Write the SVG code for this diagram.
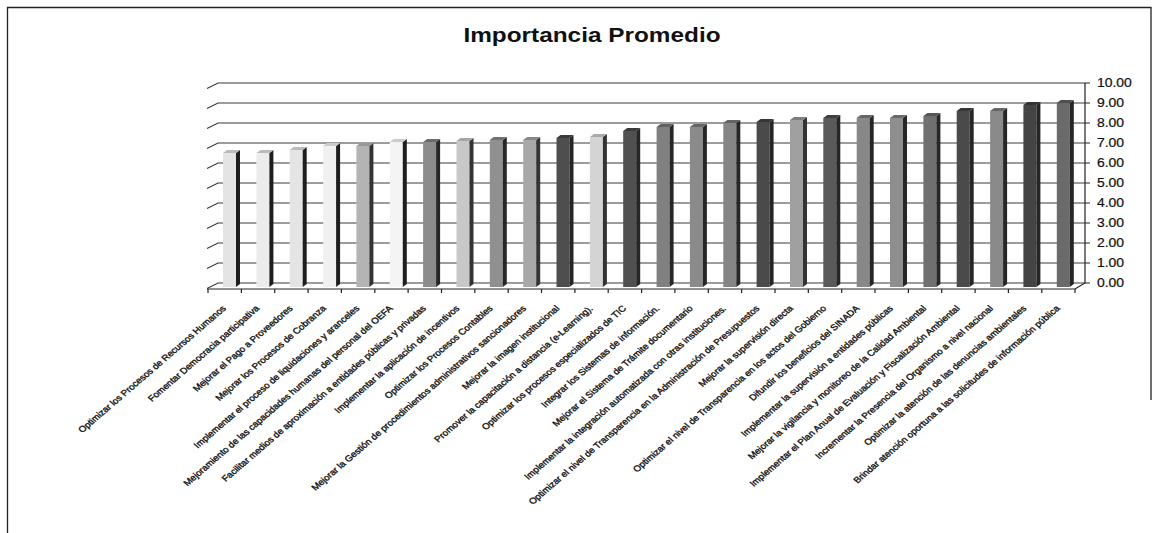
<svg xmlns="http://www.w3.org/2000/svg" width="1158" height="533" viewBox="0 0 1158 533">
<style>
.frame{fill:none;stroke:#222;stroke-width:1.3}
.grid{stroke:#3a3a3a;stroke-width:1.1;fill:none}
.ax{stroke:#222;stroke-width:1.2;fill:none}
.lbl{font-family:"Liberation Sans",Arial,sans-serif;font-size:8.5px;fill:#111;stroke:#111;stroke-width:0.35}
.val{font-family:"Liberation Sans",Arial,sans-serif;font-size:12px;fill:#111;stroke:#111;stroke-width:0.2}
.title{font-family:"Liberation Sans",Arial,sans-serif;font-size:21px;font-weight:bold;fill:#111}
.s1{fill:#1e1e1e}.s2{fill:#333}.s3{fill:#262626}
</style>
<rect width="1158" height="533" fill="#fff"/>
<path class="frame" d="M7.5,533 V7.5 H1151 V400"/>
<text class="title" transform="translate(592,42) scale(1.16,1)" text-anchor="middle">Importancia Promedio</text>

<g id="axes">
  <g class="grid">
    <path d="M207,88.5 L218,83 H1085"/>
    <path d="M207,108.5 L218,103 H1085"/>
    <path d="M207,128.5 L218,123 H1085"/>
    <path d="M207,148.5 L218,143 H1085"/>
    <path d="M207,168.5 L218,163 H1085"/>
    <path d="M207,188.5 L218,183 H1085"/>
    <path d="M207,208.5 L218,203 H1085"/>
    <path d="M207,228.5 L218,223 H1085"/>
    <path d="M207,248.5 L218,243 H1085"/>
    <path d="M207,268.5 L218,263 H1085"/>
    <path d="M207,288.5 L218,283 H1085"/>
  </g>
  <path class="ax" d="M1085,83 V283 L1075,289 H207"/>
  <path class="ax" d="M1085,83 h5 M1085,103 h5 M1085,123 h5 M1085,143 h5 M1085,163 h5 M1085,183 h5 M1085,203 h5 M1085,223 h5 M1085,243 h5 M1085,263 h5 M1085,283 h5"/>
  <path class="ax" d="M208,289 v4 M241.4,289 v4 M274.7,289 v4 M308.1,289 v4 M341.4,289 v4 M374.8,289 v4 M408.1,289 v4 M441.5,289 v4 M474.8,289 v4 M508.2,289 v4 M541.5,289 v4 M574.9,289 v4 M608.2,289 v4 M641.6,289 v4 M674.9,289 v4 M708.3,289 v4 M741.6,289 v4 M775,289 v4 M808.3,289 v4 M841.7,289 v4 M875,289 v4 M908.4,289 v4 M941.7,289 v4 M975.1,289 v4 M1008.4,289 v4 M1041.8,289 v4 M1075,289 v4"/>
  <g class="val">
    <text transform="translate(1097,87) scale(1.16,1)">10.00</text>
    <text transform="translate(1097,107) scale(1.16,1)">9.00</text>
    <text transform="translate(1097,127) scale(1.16,1)">8.00</text>
    <text transform="translate(1097,147) scale(1.16,1)">7.00</text>
    <text transform="translate(1097,167) scale(1.16,1)">6.00</text>
    <text transform="translate(1097,187) scale(1.16,1)">5.00</text>
    <text transform="translate(1097,207) scale(1.16,1)">4.00</text>
    <text transform="translate(1097,227) scale(1.16,1)">3.00</text>
    <text transform="translate(1097,247) scale(1.16,1)">2.00</text>
    <text transform="translate(1097,267) scale(1.16,1)">1.00</text>
    <text transform="translate(1097,287) scale(1.16,1)">0.00</text>
  </g>
</g>

<g id="bars">
<g id="bar-01"><rect x="223" y="153" width="13" height="134" fill="#e4e4e4"/><polygon class="s1" points="236,153 240,150 240,284 236,287"/><polygon points="223,153 236,153 240,150 227,150" fill="#bbb"/><text class="lbl" transform="translate(226.5,309) scale(1.16,1) rotate(-45)" text-anchor="end">Optimizar los Procesos de Recursos Humanos</text></g>
<g id="bar-02"><rect x="256.4" y="153" width="13" height="134" fill="#ececec"/><polygon class="s1" points="269.4,153 273.4,150 273.4,284 269.4,287"/><polygon points="256.4,153 269.4,153 273.4,150 260.4,150" fill="#bbb"/><text class="lbl" transform="translate(259.9,309) scale(1.16,1) rotate(-45)" text-anchor="end">Fomentar Democracia participativa</text></g>
<g id="bar-03"><rect x="289.7" y="150" width="13" height="137" fill="#e4e4e4"/><polygon class="s1" points="302.7,150 306.7,147 306.7,284 302.7,287"/><polygon points="289.7,150 302.7,150 306.7,147 293.7,147" fill="#bbb"/><text class="lbl" transform="translate(293.2,309) scale(1.16,1) rotate(-45)" text-anchor="end">Mejorar el Pago a Proveedores</text></g>
<g id="bar-04"><rect x="323.1" y="146" width="13" height="141" fill="#f0f0f0"/><polygon class="s1" points="336.1,146 340.1,143 340.1,284 336.1,287"/><polygon points="323.1,146 336.1,146 340.1,143 327.1,143" fill="#ccc"/><text class="lbl" transform="translate(326.6,309) scale(1.16,1) rotate(-45)" text-anchor="end">Mejorar los Procesos de Cobranza</text></g>
<g id="bar-05"><rect x="356.4" y="146" width="13" height="141" fill="#b4b4b4"/><polygon class="s2" points="369.4,146 373.4,143 373.4,284 369.4,287"/><polygon points="356.4,146 369.4,146 373.4,143 360.4,143" fill="#999"/><text class="lbl" transform="translate(359.9,309) scale(1.16,1) rotate(-45)" text-anchor="end">Implementar el proceso de liquidaciones y aranceles</text></g>
<g id="bar-06"><rect x="389.8" y="142" width="13" height="145" fill="#f4f4f4"/><polygon class="s1" points="402.8,142 406.8,139 406.8,284 402.8,287"/><polygon points="389.8,142 402.8,142 406.8,139 393.8,139" fill="#ccc"/><text class="lbl" transform="translate(393.3,309) scale(1.16,1) rotate(-45)" text-anchor="end">Mejoramiento de las capacidades humanas del personal del OEFA</text></g>
<g id="bar-07"><rect x="423.1" y="142" width="13" height="145" fill="#8c8c8c"/><polygon class="s3" points="436.1,142 440.1,139 440.1,284 436.1,287"/><polygon points="423.1,142 436.1,142 440.1,139 427.1,139" fill="#6a6a6a"/><text class="lbl" transform="translate(426.6,309) scale(1.16,1) rotate(-45)" text-anchor="end">Facilitar medios de aproximación a entidades públicas y privadas</text></g>
<g id="bar-08"><rect x="456.5" y="141" width="13" height="146" fill="#c8c8c8"/><polygon class="s2" points="469.5,141 473.5,138 473.5,284 469.5,287"/><polygon points="456.5,141 469.5,141 473.5,138 460.5,138" fill="#a5a5a5"/><text class="lbl" transform="translate(460,309) scale(1.16,1) rotate(-45)" text-anchor="end">Implementar la aplicación de incentivos</text></g>
<g id="bar-09"><rect x="489.8" y="140" width="13" height="147" fill="#909090"/><polygon class="s3" points="502.8,140 506.8,137 506.8,284 502.8,287"/><polygon points="489.8,140 502.8,140 506.8,137 493.8,137" fill="#707070"/><text class="lbl" transform="translate(493.3,309) scale(1.16,1) rotate(-45)" text-anchor="end">Optimizar los Procesos Contables</text></g>
<g id="bar-10"><rect x="523.2" y="140" width="13" height="147" fill="#a8a8a8"/><polygon class="s2" points="536.2,140 540.2,137 540.2,284 536.2,287"/><polygon points="523.2,140 536.2,140 540.2,137 527.2,137" fill="#888"/><text class="lbl" transform="translate(526.7,309) scale(1.16,1) rotate(-45)" text-anchor="end">Mejorar la Gestión de procedimientos administrativos sancionadores</text></g>
<g id="bar-11"><rect x="556.5" y="138" width="13" height="149" fill="#4e4e4e"/><polygon class="s3" points="569.5,138 573.5,135 573.5,284 569.5,287"/><polygon points="556.5,138 569.5,138 573.5,135 560.5,135" fill="#3a3a3a"/><text class="lbl" transform="translate(560,309) scale(1.16,1) rotate(-45)" text-anchor="end">Mejorar la imagen institucional</text></g>
<g id="bar-12"><rect x="589.9" y="137" width="13" height="150" fill="#d4d4d4"/><polygon class="s2" points="602.9,137 606.9,134 606.9,284 602.9,287"/><polygon points="589.9,137 602.9,137 606.9,134 593.9,134" fill="#aaa"/><text class="lbl" transform="translate(593.4,309) scale(1.16,1) rotate(-45)" text-anchor="end">Promover la capacitación a distancia (e-Learning).</text></g>
<g id="bar-13"><rect x="623.2" y="131" width="13" height="156" fill="#505050"/><polygon class="s3" points="636.2,131 640.2,128 640.2,284 636.2,287"/><polygon points="623.2,131 636.2,131 640.2,128 627.2,128" fill="#3a3a3a"/><text class="lbl" transform="translate(626.7,309) scale(1.16,1) rotate(-45)" text-anchor="end">Optimizar los procesos especializados de TIC</text></g>
<g id="bar-14"><rect x="656.6" y="127" width="13" height="160" fill="#808080"/><polygon class="s3" points="669.6,127 673.6,124 673.6,284 669.6,287"/><polygon points="656.6,127 669.6,127 673.6,124 660.6,124" fill="#606060"/><text class="lbl" transform="translate(660.1,309) scale(1.16,1) rotate(-45)" text-anchor="end">Integrar los Sistemas de información.</text></g>
<g id="bar-15"><rect x="689.9" y="127" width="13" height="160" fill="#8a8a8a"/><polygon class="s3" points="702.9,127 706.9,124 706.9,284 702.9,287"/><polygon points="689.9,127 702.9,127 706.9,124 693.9,124" fill="#666"/><text class="lbl" transform="translate(693.4,309) scale(1.16,1) rotate(-45)" text-anchor="end">Mejorar el Sistema de Trámite documentario</text></g>
<g id="bar-16"><rect x="723.3" y="123" width="13" height="164" fill="#858585"/><polygon class="s3" points="736.3,123 740.3,120 740.3,284 736.3,287"/><polygon points="723.3,123 736.3,123 740.3,120 727.3,120" fill="#636363"/><text class="lbl" transform="translate(726.8,309) scale(1.16,1) rotate(-45)" text-anchor="end">Implementar la integración automatizada con otras instituciones.</text></g>
<g id="bar-17"><rect x="756.6" y="122" width="13" height="165" fill="#4a4a4a"/><polygon class="s3" points="769.6,122 773.6,119 773.6,284 769.6,287"/><polygon points="756.6,122 769.6,122 773.6,119 760.6,119" fill="#363636"/><text class="lbl" transform="translate(760.1,309) scale(1.16,1) rotate(-45)" text-anchor="end">Optimizar el nivel de Transparencia en la Administración de Presupuestos</text></g>
<g id="bar-18"><rect x="790" y="120" width="13" height="167" fill="#a0a0a0"/><polygon class="s2" points="803,120 807,117 807,284 803,287"/><polygon points="790,120 803,120 807,117 794,117" fill="#7e7e7e"/><text class="lbl" transform="translate(793.5,309) scale(1.16,1) rotate(-45)" text-anchor="end">Mejorar la supervisión directa</text></g>
<g id="bar-19"><rect x="823.3" y="118" width="13" height="169" fill="#5a5a5a"/><polygon class="s3" points="836.3,118 840.3,115 840.3,284 836.3,287"/><polygon points="823.3,118 836.3,118 840.3,115 827.3,115" fill="#404040"/><text class="lbl" transform="translate(826.8,309) scale(1.16,1) rotate(-45)" text-anchor="end">Optimizar el nivel de Transparencia en los actos del Gobierno</text></g>
<g id="bar-20"><rect x="856.7" y="118" width="13" height="169" fill="#888"/><polygon class="s3" points="869.7,118 873.7,115 873.7,284 869.7,287"/><polygon points="856.7,118 869.7,118 873.7,115 860.7,115" fill="#666"/><text class="lbl" transform="translate(860.2,309) scale(1.16,1) rotate(-45)" text-anchor="end">Difundir los beneficios del SINADA</text></g>
<g id="bar-21"><rect x="890" y="118" width="13" height="169" fill="#8e8e8e"/><polygon class="s3" points="903,118 907,115 907,284 903,287"/><polygon points="890,118 903,118 907,115 894,115" fill="#6a6a6a"/><text class="lbl" transform="translate(893.5,309) scale(1.16,1) rotate(-45)" text-anchor="end">Implementar la supervisión a entidades públicas</text></g>
<g id="bar-22"><rect x="923.4" y="116" width="13" height="171" fill="#707070"/><polygon class="s3" points="936.4,116 940.4,113 940.4,284 936.4,287"/><polygon points="923.4,116 936.4,116 940.4,113 927.4,113" fill="#555"/><text class="lbl" transform="translate(926.9,309) scale(1.16,1) rotate(-45)" text-anchor="end">Mejorar la vigilancia y monitoreo de la Calidad Ambiental</text></g>
<g id="bar-23"><rect x="956.7" y="111" width="13" height="176" fill="#4a4a4a"/><polygon class="s3" points="969.7,111 973.7,108 973.7,284 969.7,287"/><polygon points="956.7,111 969.7,111 973.7,108 960.7,108" fill="#363636"/><text class="lbl" transform="translate(960.2,309) scale(1.16,1) rotate(-45)" text-anchor="end">Implementar el Plan Anual de Evaluación y Fiscalización Ambiental</text></g>
<g id="bar-24"><rect x="990.1" y="111" width="13" height="176" fill="#8a8a8a"/><polygon class="s3" points="1003.1,111 1007.1,108 1007.1,284 1003.1,287"/><polygon points="990.1,111 1003.1,111 1007.1,108 994.1,108" fill="#666"/><text class="lbl" transform="translate(993.6,309) scale(1.16,1) rotate(-45)" text-anchor="end">Incrementar la Presencia del Organismo a nivel nacional</text></g>
<g id="bar-25"><rect x="1023.4" y="105" width="13" height="182" fill="#444"/><polygon class="s3" points="1036.4,105 1040.4,102 1040.4,284 1036.4,287"/><polygon points="1023.4,105 1036.4,105 1040.4,102 1027.4,102" fill="#333"/><text class="lbl" transform="translate(1026.9,309) scale(1.16,1) rotate(-45)" text-anchor="end">Optimizar la atención de las denuncias ambientales</text></g>
<g id="bar-26"><rect x="1056.8" y="103" width="13" height="184" fill="#6a6a6a"/><polygon class="s3" points="1069.8,103 1073.8,100 1073.8,284 1069.8,287"/><polygon points="1056.8,103 1069.8,103 1073.8,100 1060.8,100" fill="#4e4e4e"/><text class="lbl" transform="translate(1060.3,309) scale(1.16,1) rotate(-45)" text-anchor="end">Brindar atención oportuna a las solicitudes de información pública</text></g>
</g>
</svg>
